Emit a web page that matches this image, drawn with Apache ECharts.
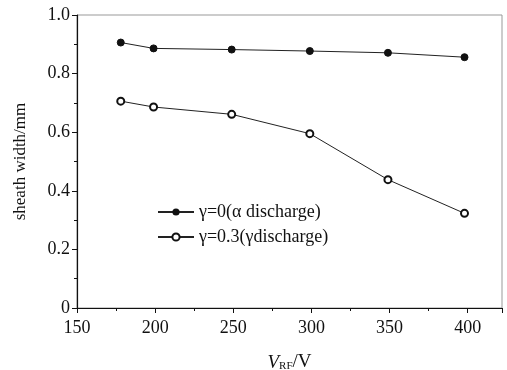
<!DOCTYPE html>
<html><head><meta charset="utf-8">
<script src="https://cdn.jsdelivr.net/npm/echarts@6/dist/echarts.min.js"></script>
<style>html,body{margin:0;padding:0;background:#fff}#c{width:507px;height:370px}</style>
</head><body><div id="c"></div>
<script>
const xAlpha = [178, 199, 249, 299, 349, 398];
const yAlpha = [0.906, 0.886, 0.882, 0.877, 0.871, 0.856];
const xGamma = [178, 199, 249, 299, 349, 398];
const yGamma = [0.706, 0.686, 0.661, 0.595, 0.438, 0.323];
const seriesNames = ['γ=0(α discharge)', 'γ=0.3(γdischarge)'];
const yTickLabels = {0: '0', 0.2: '0.2', 0.4: '0.4', 0.6: '0.6', 0.8: '0.8', 1: '1.0'};

const F = 'Liberation Serif';
const chart = echarts.init(document.getElementById('c'));
chart.setOption({
  animation: false,
  backgroundColor: '#fff',
  grid: {left: 77, right: 5, top: 15, bottom: 62, show: true, borderColor: '#999', borderWidth: 1,
    containLabel: false, outerBoundsMode: 'none'},
  legend: {
    left: 152, top: 198, orient: 'vertical', itemWidth: 36, itemHeight: 9, itemGap: 7,
    textStyle: {fontFamily: F, fontSize: 18, color: '#111'},
    data: seriesNames
  },
  xAxis: {
    type: 'value', min: 150, max: 422, interval: 50,
    axisLine: {onZero: false, lineStyle: {color: '#111', width: 1.2}},
    axisTick: {inside: false, length: 5, lineStyle: {color: '#111'}},
    minorTick: {show: true, splitNumber: 2, length: 3, lineStyle: {color: '#111'}},
    splitLine: {show: false},
    axisLabel: {fontFamily: F, fontSize: 18, color: '#111', margin: 11,
      formatter: v => (v % 50 === 0 ? String(v) : '')},
    name: '{i|V}{s|RF}{n|/V}', nameLocation: 'middle', nameGap: 45,
    nameTextStyle: {rich: {
      i: {fontFamily: F, fontStyle: 'italic', fontSize: 19, color: '#111'},
      s: {fontFamily: F, fontSize: 11, color: '#111', verticalAlign: 'bottom', padding: [8, 0, 0, 0]},
      n: {fontFamily: F, fontSize: 19, color: '#111'}
    }}
  },
  yAxis: {
    type: 'value', min: 0, max: 1, interval: 0.2,
    axisLine: {lineStyle: {color: '#111', width: 1.2}},
    axisTick: {inside: false, length: 5, lineStyle: {color: '#111'}},
    minorTick: {show: true, splitNumber: 2, length: 3, lineStyle: {color: '#111'}},
    splitLine: {show: false},
    axisLabel: {fontFamily: F, fontSize: 18, color: '#111', margin: 7,
      formatter: v => yTickLabels[Math.round(v * 10) / 10] ?? ''},
    name: 'sheath width/mm', nameLocation: 'middle', nameGap: 48,
    nameTextStyle: {fontFamily: F, fontSize: 17, color: '#111'}
  },
  series: [
    {name: seriesNames[0], type: 'line', data: xAlpha.map((x, i) => [x, yAlpha[i]]),
      symbol: 'circle', symbolSize: 7, lineStyle: {color: '#222', width: 1},
      itemStyle: {color: '#111', borderColor: '#111'}},
    {name: seriesNames[1], type: 'line', data: xGamma.map((x, i) => [x, yGamma[i]]),
      symbol: 'emptyCircle', symbolSize: 7, lineStyle: {color: '#222', width: 1},
      itemStyle: {color: '#111', borderColor: '#111', borderWidth: 1.2}}
  ]
});
</script></body></html>
